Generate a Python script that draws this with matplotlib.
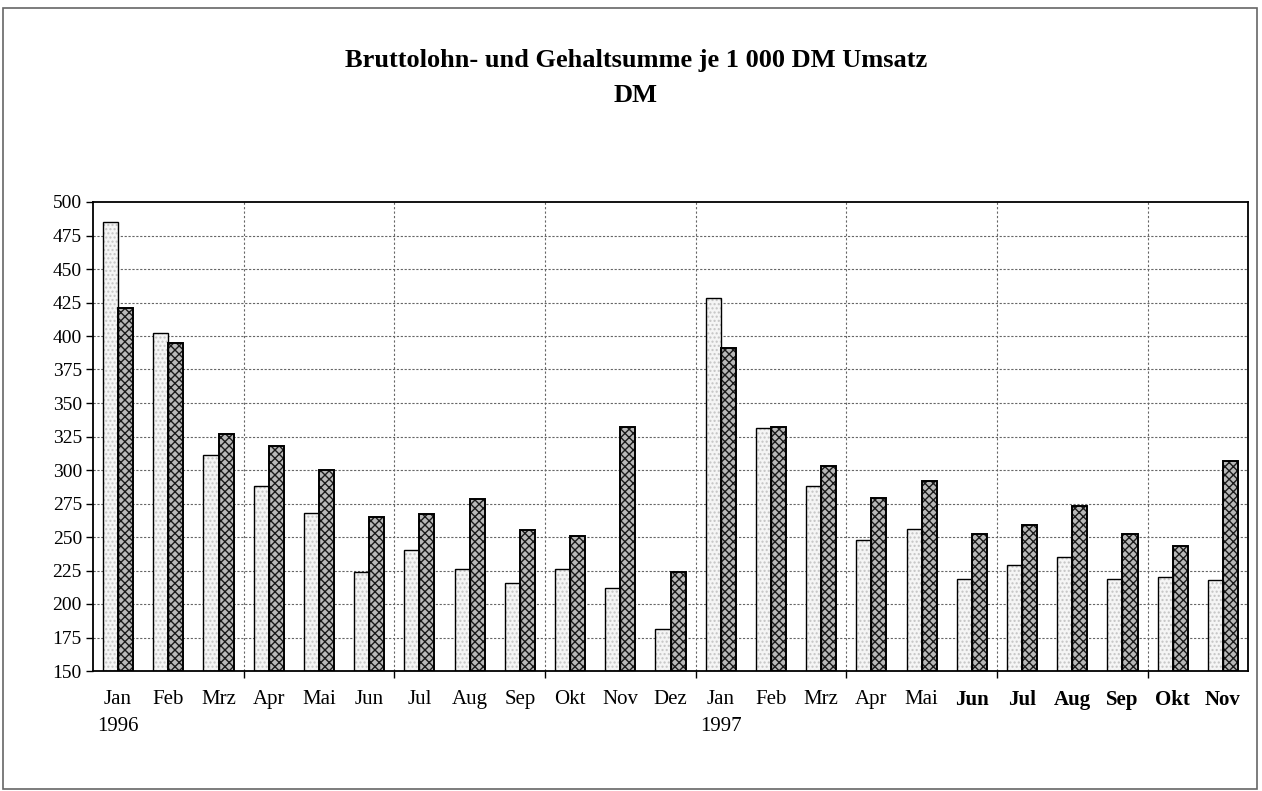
import matplotlib
matplotlib.use("Agg")
import matplotlib.pyplot as plt
from matplotlib.ticker import FixedLocator, NullFormatter
import numpy as np

months = ["Jan", "Feb", "Mrz", "Apr", "Mai", "Jun", "Jul", "Aug", "Sep", "Okt", "Nov", "Dez",
          "Jan", "Feb", "Mrz", "Apr", "Mai", "Jun", "Jul", "Aug", "Sep", "Okt", "Nov"]
years = {0: "1996", 12: "1997"}
bold_labels = {17, 18, 19, 20, 21, 22}

series_light = [485, 402, 311, 288, 268, 224, 240, 226, 216, 226, 212, 181,
                428, 331, 288, 248, 256, 219, 229, 235, 219, 220, 218]
series_dark = [421, 395, 327, 318, 300, 265, 267, 278, 255, 251, 332, 224,
               391, 332, 303, 279, 292, 252, 259, 273, 252, 243, 307]

y_ticks = list(range(150, 501, 25))

serif = ["Liberation Serif", "DejaVu Serif"]
plt.rcParams["font.family"] = serif
plt.rcParams["hatch.linewidth"] = 1.0

fig = plt.figure(figsize=(12.62, 7.91), dpi=100)
ax = fig.add_axes([93 / 1262, 1 - 671 / 791, (1248 - 93) / 1262, (671 - 202) / 791])

x = np.arange(len(months))
w = 0.3
base = 150

light_h = np.array(series_light) - base
dark_h = np.array(series_dark) - base

# fill layers (hatch colour comes from edgecolor)
ax.bar(x - w / 2, light_h, w, bottom=base, facecolor="#f5f5f5", edgecolor="#c4c4c4",
       hatch="....", linewidth=0, zorder=2)
ax.bar(x + w / 2, dark_h, w, bottom=base, facecolor="#b8b8b8", edgecolor="#1a1a1a",
       hatch="xxxx", linewidth=0, zorder=2)
# outlines
ax.bar(x - w / 2, light_h, w, bottom=base, facecolor="none", edgecolor="black",
       linewidth=1.0, zorder=3)
ax.bar(x + w / 2, dark_h, w, bottom=base, facecolor="none", edgecolor="black",
       linewidth=1.4, zorder=3)

ax.set_xlim(-0.5, len(months) - 0.5)
ax.set_ylim(150, 500)

# y axis
ax.set_yticks(y_ticks)
ax.set_yticklabels([str(v) for v in y_ticks])
ax.tick_params(axis="y", direction="out", length=5, width=1, pad=3, labelsize=14)

# x axis: boundary ticks every 3 months, labels on the months
boundaries = np.arange(2.5, len(months) - 0.5, 3)
ax.xaxis.set_major_locator(FixedLocator(boundaries))
ax.xaxis.set_major_formatter(NullFormatter())
ax.xaxis.set_minor_locator(FixedLocator(x))
labels = [m + ("\n" + years[i] if i in years else "") for i, m in enumerate(months)]
ax.set_xticklabels(labels, minor=True)
ax.tick_params(axis="x", which="major", direction="out", length=5, width=1)
ax.tick_params(axis="x", which="minor", length=0, pad=14, labelsize=15)
for i, lab in enumerate(ax.get_xticklabels(minor=True)):
    lab.set_linespacing(1.55)
    lab.set_verticalalignment("top")
    if i in bold_labels:
        lab.set_fontweight("bold")

# grid
for yv in y_ticks[1:-1]:
    ax.axhline(yv, color="#666666", linestyle=(0, (2, 1.5)), linewidth=0.8, zorder=1)
for xv in boundaries:
    ax.axvline(xv, color="#666666", linestyle=(0, (2, 2)), linewidth=0.8, zorder=1)

for s in ax.spines.values():
    s.set_linewidth(1.3)
    s.set_color("black")

fig.text(636 / 1262, 1 - 60 / 791, "Bruttolohn- und Gehaltsumme je 1 000 DM Umsatz",
         ha="center", va="center", fontsize=19, fontweight="bold")
fig.text(636 / 1262, 1 - 96 / 791, "DM", ha="center", va="center",
         fontsize=19, fontweight="bold")

# outer frame
frame = plt.Rectangle((3 / 1262, 0.002), (1257 - 3) / 1262, 1 - 8 / 791 - 0.002,
                      transform=fig.transFigure, fill=False, edgecolor="#666666",
                      linewidth=1.2)
fig.add_artist(frame)

fig.savefig("out.png", dpi=100)
